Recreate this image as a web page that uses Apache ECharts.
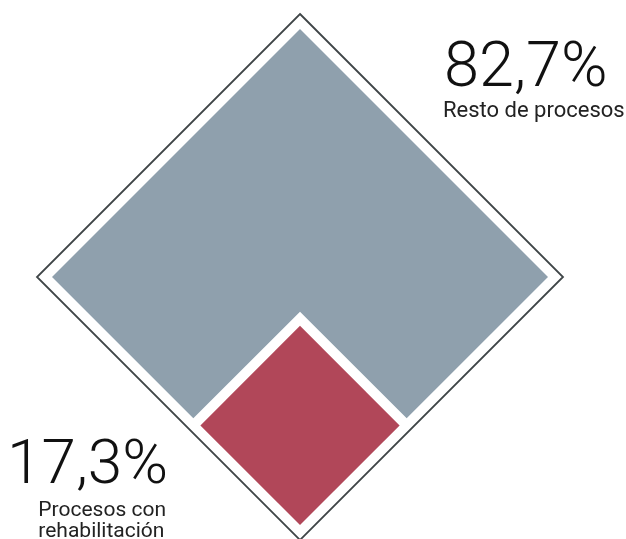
<!DOCTYPE html>
<html>
<head>
<meta charset="utf-8">
<style>
  html, body { margin: 0; padding: 0; background: #ffffff; }
  #chart { width: 626px; height: 539px; }
</style>
<script src="https://cdn.jsdelivr.net/npm/echarts@6/dist/echarts.min.js"></script>
</head>
<body>
<div id="chart"></div>
<script>
// Share of processes (percent of the whole square)
const categories = ['Procesos con rehabilitación', 'Resto de procesos'];
const shares = [17.3, 82.7];
const labelLines = [['Procesos con', 'rehabilitación'], ['Resto de procesos']];
const colors = ['#b14759', '#8fa0ad'];

const fmt = v => v.toFixed(1).replace('.', ',') + '%';

const chart = echarts.init(document.getElementById('chart'), null, { renderer: 'canvas' });

// white gap between cells (px, measured perpendicular to the edges) and outline offset
const GAP = 10;
const OUTLINE = 15;

function renderItem(params, api) {
  const idx = params.dataIndex;
  const share = api.value(1);
  // side fraction of the corner square holding the small share
  const f = Math.sqrt(shares[0] / 100);
  const unitPx = api.size([1, 1])[0];            // px per data unit
  const df = (GAP * Math.SQRT2) / (4 * unitPx);   // half gap in side-fraction units
  const P = (x, y) => api.coord([x, y]);

  if (idx === 0) {
    const fr = Math.sqrt(share / 100) - df;
    const pts = [P(0, -1), P(fr, -1 + fr), P(0, -1 + 2 * fr), P(-fr, -1 + fr)];
    return {
      type: 'polygon',
      shape: { points: pts },
      style: { fill: colors[0] }
    };
  }
  const fg = f + df;
  const pts = [
    P(0, 1), P(1, 0), P(fg, -1 + fg), P(0, -1 + 2 * fg), P(-fg, -1 + fg), P(-1, 0)
  ];
  const top = P(0, 1), right = P(1, 0), bottom = P(0, -1), left = P(-1, 0);
  const outline = [
    [top[0], top[1] - OUTLINE],
    [right[0] + OUTLINE, right[1]],
    [bottom[0], bottom[1] + OUTLINE],
    [left[0] - OUTLINE, left[1]]
  ];
  return {
    type: 'group',
    children: [
      {
        type: 'polygon',
        shape: { points: outline },
        style: { fill: 'none', stroke: '#3f4547', lineWidth: 1.8 }
      },
      {
        type: 'polygon',
        shape: { points: pts },
        style: { fill: colors[1] }
      }
    ]
  };
}

const option = {
  animation: false,
  grid: { left: 52, top: 29, width: 496, height: 496 },
  xAxis: { type: 'value', min: -1, max: 1, show: false },
  yAxis: { type: 'value', min: -1, max: 1, show: false },
  series: [{
    type: 'custom',
    coordinateSystem: 'cartesian2d',
    renderItem: renderItem,
    clip: false,
    data: categories.map((c, i) => ({ name: c, value: [i, shares[i]] }))
  }],
  graphic: [
    {
      type: 'text', left: 444, top: 39,
      style: { text: fmt(shares[1]), font: '300 63px Roboto', fill: '#111' }
    },
    {
      type: 'text', left: 443, top: 100,
      style: { text: labelLines[1].join('\n'), font: '400 22px Roboto', fill: '#222' }
    },
    {
      type: 'text', right: 626 - 168, top: 436,
      style: { text: fmt(shares[0]), font: '300 62px Roboto', fill: '#111', align: 'right' }
    },
    {
      type: 'text', right: 626 - 166, top: 500,
      style: { text: labelLines[0].join('\n'), font: '400 21px Roboto', fill: '#222', align: 'right', lineHeight: 21 }
    }
  ]
};

chart.setOption(option);
</script>
</body>
</html>
